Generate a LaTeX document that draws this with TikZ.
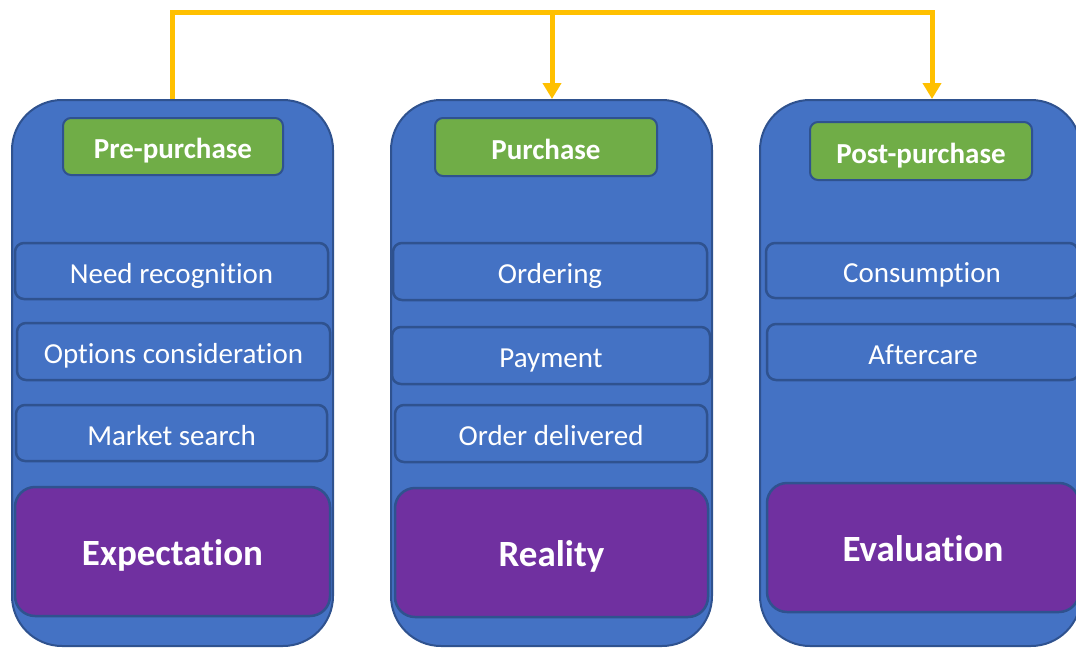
\documentclass[tikz,border=0pt]{standalone}
\usepackage{fontspec}
\setmainfont{Carlito}[Ligatures=NoCommon]
\usetikzlibrary{arrows.meta}
\definecolor{colblue}{HTML}{4472C4}
\definecolor{edgeblue}{HTML}{2F528F}
\definecolor{stagegreen}{HTML}{70AD47}
\definecolor{outcomepurple}{HTML}{7030A0}
\definecolor{linkorange}{HTML}{FFC000}

\begin{document}
\begin{tikzpicture}[x=1pt,y=-1pt,
  column/.style={draw=edgeblue, line width=2pt, fill=colblue, rounded corners=50pt, inner sep=0pt},
  stagebox/.style={draw=edgeblue, line width=2pt, fill=stagegreen, rounded corners=8pt,
    inner sep=0pt, text=white, font=\fontsize{29}{32}\selectfont\bfseries,
    text height=30pt, text depth=5.8pt},
  itembox/.style={draw=edgeblue, line width=2.5pt, fill=colblue, rounded corners=9pt,
    inner sep=0pt, text=white, font=\fontsize{29}{32}\selectfont,
    text height=30.5pt, text depth=5.7pt},
  outcomebox/.style={draw=edgeblue, line width=2.5pt, fill=outcomepurple, rounded corners=20pt,
    inner sep=0pt, text=white, font=\fontsize{37}{40}\selectfont\bfseries,
    text height=35.5pt, text depth=7.4pt},
  link/.style={draw=linkorange, line width=5pt},
  linkhead/.style={-{Triangle[width=18pt,length=16pt]}},
  ]
\useasboundingbox (0,0) rectangle (1076,648);
\clip (0,0) rectangle (1076,648);

% the three stage columns
\node[column, minimum width=321pt, minimum height=546pt] (c1) at (172.5,373) {};
\node[column, minimum width=321pt, minimum height=546pt] (c2) at (551.5,373) {};
\node[column, minimum width=321pt, minimum height=546pt] (c3) at (920.5,373) {};

% stage titles
\node[stagebox, minimum width=220pt, minimum height=57pt] (g1) at (173,146.5) {Pre-purchase};
\node[stagebox, minimum width=222pt, minimum height=58pt] (g2) at (546,147) {Purchase};
\node[stagebox, minimum width=222pt, minimum height=58pt] (g3) at (921,151) {Post-purchase};

% steps of each stage
\node[itembox, minimum width=313pt, minimum height=56pt] (i11) at (171.5,271) {Need recognition};
\node[itembox, minimum width=313pt, minimum height=57pt] (i12) at (173.5,351.5) {Options consideration};
\node[itembox, minimum width=311pt, minimum height=56pt] (i13) at (171.5,433) {Market search};

\node[itembox, minimum width=314pt, minimum height=57pt] (i21) at (550,271.5) {Ordering};
\node[itembox, minimum width=318pt, minimum height=57pt] (i22) at (551,355.5) {Payment};
\node[itembox, minimum width=312pt, minimum height=57pt] (i23) at (551,433.5) {Order delivered};

\node[itembox, minimum width=312pt, minimum height=55pt] (i31) at (922,270.5) {Consumption};
\node[itembox, minimum width=312pt, minimum height=56pt] (i32) at (923,352) {Aftercare};

% outcome of each stage
\node[outcomebox, minimum width=315pt, minimum height=129pt] (p1) at (172.5,551.5) {Expectation};
\node[outcomebox, minimum width=313pt, minimum height=129pt] (p2) at (551.5,552.5) {Reality};
\node[outcomebox, minimum width=312pt, minimum height=129pt] (p3) at (923,547.5) {Evaluation};

% feedback link across the stages
\coordinate (tap) at (552,12);
\coordinate (turn) at (932,12);
\draw[link, linkhead] (c1.north) |- (turn) -- (turn |- c3.north);
\draw[link, linkhead] (tap) -- (tap |- c2.north);
\end{tikzpicture}
\end{document}
